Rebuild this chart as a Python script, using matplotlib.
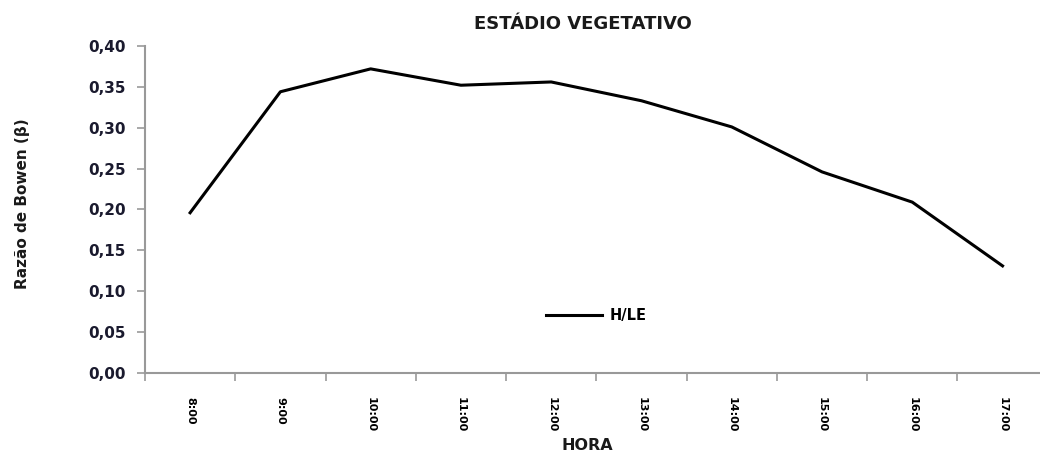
import matplotlib.pyplot as plt
import numpy as np

hours = ["8:00", "9:00", "10:00", "11:00", "12:00", "13:00", "14:00", "15:00", "16:00", "17:00"]
bowen = [0.196, 0.344, 0.372, 0.352, 0.356, 0.333, 0.301, 0.246, 0.209, 0.131]
yticks = [0.00, 0.05, 0.10, 0.15, 0.20, 0.25, 0.30, 0.35, 0.40]

plt.rcParams["font.family"] = ["DejaVu Sans"]

fig = plt.figure(figsize=(10.4, 4.58), dpi=100)
ax = fig.add_axes([0.1394, 0.1856, 0.868, 0.714])

x = np.arange(len(hours))
ax.plot(x, bowen, color="black", linewidth=2.2, label="H/LE")

ax.set_xlim(-0.5, len(hours) - 0.5)
ax.set_ylim(0, 0.40)
ax.set_yticks(yticks)
ax.set_yticklabels([f"{v:.2f}".replace(".", ",") for v in yticks],
                   fontsize=11, fontweight="bold", color="#1a1a2e")

ax.set_xticks(x)
ax.set_xticklabels(hours, rotation=-90, fontsize=8, fontweight="bold", color="black")
ax.set_xticks(np.arange(-0.5, len(hours)), minor=True)
ax.tick_params(axis="x", which="major", length=0, pad=17)
ax.tick_params(axis="x", which="minor", length=6, color="#999999", width=1.2)
ax.tick_params(axis="y", length=6, color="#999999", width=1.2, pad=8)

for side in ["top", "right"]:
    ax.spines[side].set_visible(False)
for side in ["left", "bottom"]:
    ax.spines[side].set_color("#999999")
    ax.spines[side].set_linewidth(1.5)

ax.set_title("ESTÁDIO VEGETATIVO", fontsize=13, fontweight="bold", pad=12, color="#1a1a1a",
             x=0.485)
ax.set_xlabel("HORA", fontsize=11.5, fontweight="bold", labelpad=4, color="#1a1a1a", x=0.49)
fig.text(0.022, 0.555, "Razão de Bowen (β)", rotation=90, fontsize=11, fontweight="bold",
         ha="center", va="center", color="#1a1a1a")

ax.legend(loc="center", bbox_to_anchor=(0.5, 0.175), frameon=False,
          handlelength=3.8, handletextpad=0.5,
          prop={"size": 10.5, "weight": "bold"})

fig.savefig("out.png", dpi=100)
